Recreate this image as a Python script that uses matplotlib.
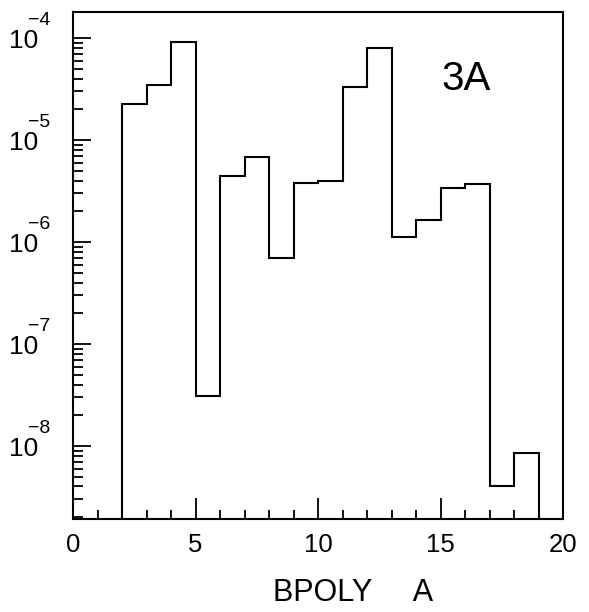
import matplotlib
matplotlib.use("Agg")
import matplotlib.pyplot as plt
import numpy as np
from matplotlib.transforms import blended_transform_factory, offset_copy
from matplotlib.ticker import LogLocator, NullFormatter, MultipleLocator

plt.rcParams['font.family'] = ['Liberation Sans', 'DejaVu Sans']

# bin edges (BPOLY A) and contents per unit bin
bin_edges = np.arange(2, 20)
bin_values = [2.25e-5, 3.46e-5, 9.07e-5, 3.09e-8, 4.4e-6, 6.87e-6, 6.9e-7,
              3.82e-6, 3.98e-6, 3.29e-5, 8.04e-5, 1.13e-6, 1.64e-6, 3.41e-6,
              3.7e-6, 4.08e-9, 8.5e-9]
y_exponents = [-8, -7, -6, -5, -4]
x_ticks = [0, 5, 10, 15, 20]
panel_label = '3A'
x_label = 'BPOLY     A'

W, H = 589, 612
fig = plt.figure(figsize=(W / 100, H / 100), dpi=100)
ax = fig.add_axes([73 / W, 1 - 519 / H, 490 / W, 507 / H])

ax.stairs(bin_values, bin_edges, baseline=1e-12, color='black', linewidth=1.5)

ax.set_yscale('log')
ax.set_xlim(0, 20)
ax.set_ylim(1.92e-9, 1.8e-4)

for s in ax.spines.values():
    s.set_linewidth(1.5)

# x axis ticks
ax.set_xticks(x_ticks)
ax.xaxis.set_minor_locator(MultipleLocator(1))
ax.tick_params(axis='x', which='major', direction='in', length=15, width=1.3,
               labelsize=18.5, pad=10, top=False)
ax.tick_params(axis='x', which='minor', direction='in', length=6.5, width=1.3, top=False)

# y axis ticks, labels drawn by hand below
ax.yaxis.set_major_locator(LogLocator(base=10, numticks=20))
ax.yaxis.set_minor_locator(LogLocator(base=10, subs=np.arange(2, 10), numticks=20))
ax.yaxis.set_major_formatter(NullFormatter())
ax.yaxis.set_minor_formatter(NullFormatter())
ax.tick_params(axis='y', which='major', direction='in', length=13, width=1.3, right=False)
ax.tick_params(axis='y', which='minor', direction='in', length=7, width=1.3, right=False)

trans = blended_transform_factory(fig.transFigure, ax.transData)
for e in y_exponents:
    ax.text(38 / W, 10.0 ** e, '10', ha='right', va='baseline', fontsize=19,
            transform=offset_copy(trans, fig=fig, y=-10, units='dots'))
    ax.text(28 / W, 10.0 ** e, '\u2212%d' % abs(e), ha='left', va='baseline',
            fontsize=14, transform=offset_copy(trans, fig=fig, y=13, units='dots'))

fig.text(441 / W, 1 - 90 / H, panel_label, ha='left', va='baseline', fontsize=29)
fig.text(273 / W, 1 - 601 / H, x_label, ha='left', va='baseline', fontsize=22)

fig.savefig('out.png', dpi=100)
